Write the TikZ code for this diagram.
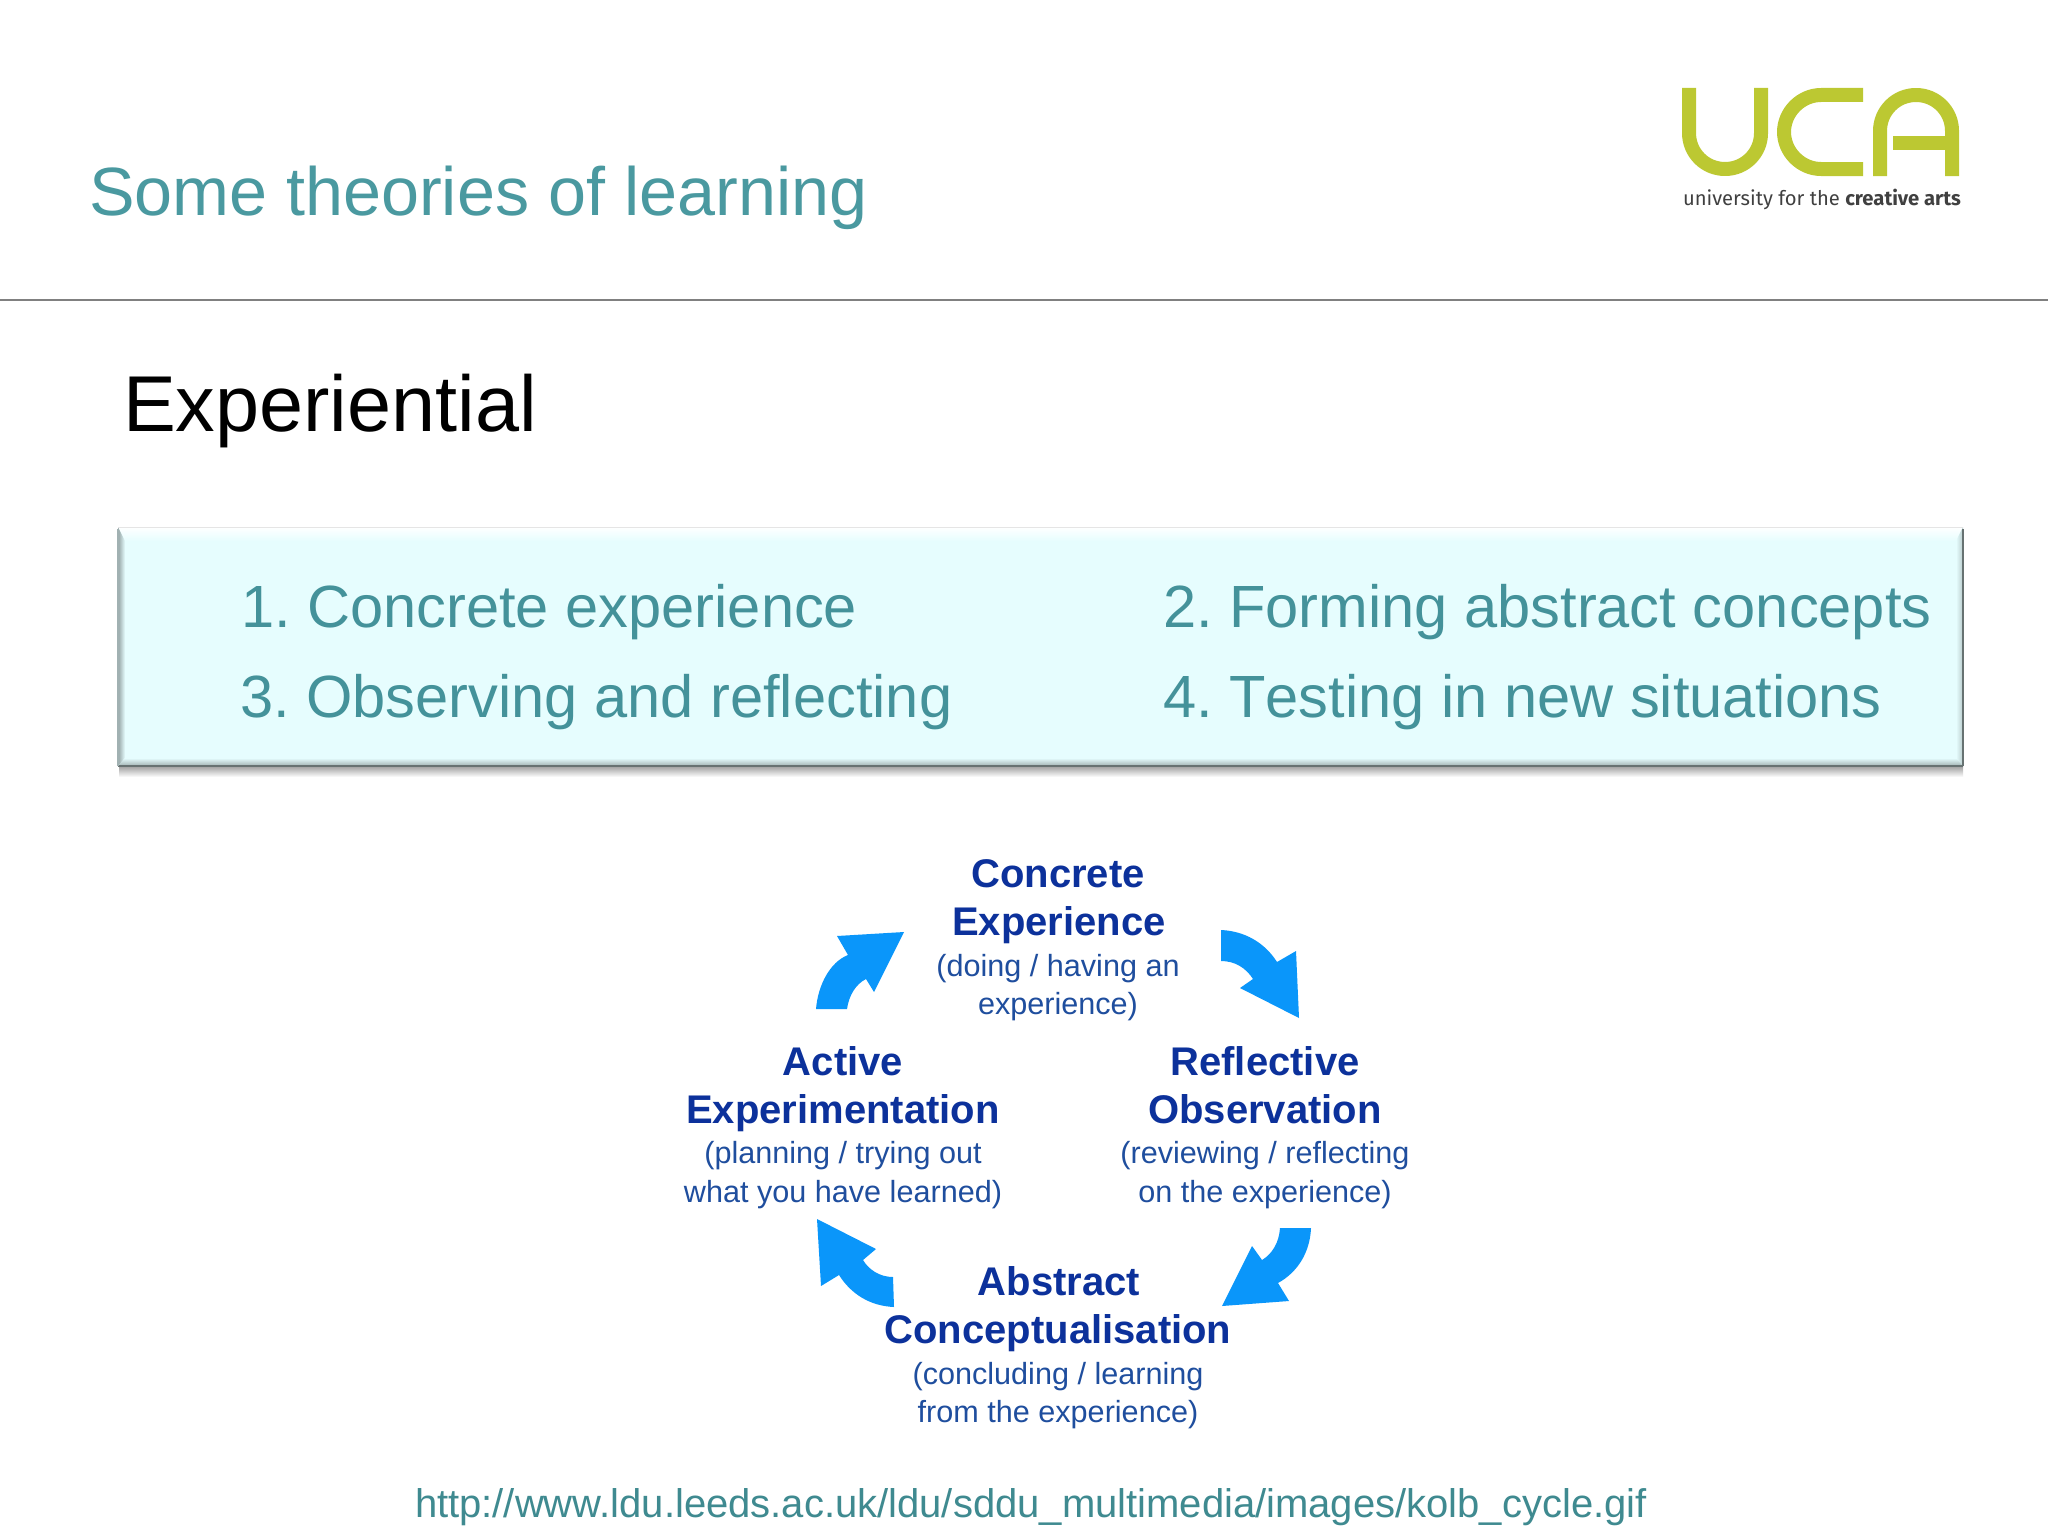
\documentclass[tikz,border=0pt]{standalone}
\usepackage{fontspec}
\setmainfont{Liberation Sans}
\newfontfamily\logofont{Fira Sans}
\newfontfamily\nokernfont[Kerning=Off]{Liberation Sans}
\definecolor{tealtitle}{HTML}{4A99A0}
\definecolor{tealtext}{HTML}{44929A}
\definecolor{tealurl}{HTML}{3F8A90}
\definecolor{boxfill}{HTML}{E6FDFE}
\definecolor{arrowblue}{HTML}{0A96FA}
\definecolor{navy}{HTML}{0C319B}
\definecolor{midblue}{HTML}{1F4E9E}
\definecolor{ucagreen}{HTML}{BCC832}
\definecolor{logogrey}{HTML}{404040}
\newcommand{\fsz}[1]{\fontsize{#1}{#1}\selectfont}
\tikzset{
  txt/.style={inner sep=0pt,outer sep=0pt,anchor=base west},
  title/.style={txt,text=tealtitle,font=\fsz{34.15}},
  heading/.style={txt,text=black,font=\fsz{39.6}},
  listitem/.style={txt,text=tealtext,font=\nokernfont\fsz{29.8}},
  kolbhead/.style={inner sep=0pt,anchor=base,text=navy,font=\fsz{20}\bfseries},
  kolbnote/.style={inner sep=0pt,anchor=base,text=midblue,font=\fsz{15.3}},
  blockarrow/.style={fill=arrowblue,draw=none},
  ucastroke/.style={draw=ucagreen,line width=7pt,line cap=butt,line join=round},
}
\begin{document}
\frenchspacing
\begin{tikzpicture}[x=0.5pt,y=-0.5pt]
\useasboundingbox (0,0) rectangle (2048,1536);
\fill[white] (0,0) rectangle (2048,1536);

% header
\node[title] (ttl) at (89,215) {Some theories of learning};
\coordinate (ruleL) at (0,300);
\coordinate (ruleR) at (2048,300);
\draw[draw=black!50,line width=0.8pt] (ruleL) -- (ruleR);
\node[heading] (exp) at (123,431) {Experiential};

% logo
\draw[ucastroke] (1689,88) -- (1689,133) .. controls (1689,153) and (1705,169) .. (1725,169)
   .. controls (1745,169) and (1761,153) .. (1761,133) -- (1761,88);
\draw[ucastroke] (1863,95) -- (1821,95) .. controls (1801,95) and (1784,112) .. (1784,132)
   .. controls (1784,152) and (1801,169) .. (1821,169) -- (1863,169);
\draw[ucastroke] (1880,176) -- (1880,131) .. controls (1880,111) and (1896,95) .. (1916,95)
   .. controls (1936,95) and (1952,111) .. (1952,131) -- (1952,176);
\draw[ucastroke] (1893,142.5) -- (1952,142.5);
\node[txt,text=logogrey,font=\logofont\fsz{10.1}] (uni) at (1683,205) {university for the \textbf{creative arts}};

% panel: soft shadow
\shade[top color=black!38,bottom color=white] (119,766) rectangle (1963,777);
\fill[boxfill] (118,527) rectangle (1963,766);
\shade[top color=white,bottom color=boxfill] (118,527) -- (1963,527) -- (1956,541) -- (125,541) -- cycle;
\shade[left color=black!35!boxfill,right color=boxfill] (118,527) -- (125,541) -- (125,758) -- (118,766) -- cycle;
\shade[left color=boxfill,right color=black!20!boxfill] (1963,527) -- (1956,541) -- (1956,758) -- (1963,766) -- cycle;
\shade[top color=boxfill,bottom color=black!30!boxfill] (118,766) -- (125,758) -- (1956,758) -- (1963,766) -- cycle;
\draw[draw=black!10,line width=0.5pt] (118,527) -- (1963,527);
\draw[draw=black!55!boxfill,line width=1pt] (118,766) -- (1963,766);
\draw[draw=black!55!boxfill,line width=1pt] (1963,766) -- (1963,529);
\draw[draw=black!30!boxfill,line width=0.7pt] (118,766) -- (118,529);

\node[listitem] (l1) at (241,627) {1. Concrete experience};
\node[listitem] (l3) at (240,717) {3. Observing and reflecting};
\node[listitem] (l2) at (1163,627) {2. Forming abstract concepts};
\node[listitem] (l4) at (1163,717) {4. Testing in new situations};

% Kolb cycle text
\node[kolbhead] (ce1) at (1058,887) {Concrete};
\node[kolbhead] (ce2) at (1059,935) {Experience};
\node[kolbnote] (ce3) at (1058,976) {(doing / having an};
\node[kolbnote] (ce4) at (1058,1014) {experience)};

\node[kolbhead] (ro1) at (1265,1075) {Reflective};
\node[kolbhead] (ro2) at (1265,1123) {Observation};
\node[kolbnote] (ro3) at (1265,1163) {(reviewing / reflecting};
\node[kolbnote] (ro4) at (1265,1202) {on the experience)};

\node[kolbhead] (ae1) at (843,1075) {Active};
\node[kolbhead] (ae2) at (843,1123) {Experimentation};
\node[kolbnote] (ae3) at (843,1163) {(planning / trying out};
\node[kolbnote] (ae4) at (843,1202) {what you have learned)};

\node[kolbhead] (ac1) at (1059,1295) {Abstract};
\node[kolbhead] (ac2) at (1058,1343) {Conceptualisation};
\node[kolbnote] (ac3) at (1058,1384) {(concluding / learning};
\node[kolbnote] (ac4) at (1058,1422) {from the experience)};

% block arrows
\fill[blockarrow] (816,1009) -- (847,1009) .. controls (849,995) and (856,984) .. (866,979)
  -- (874,992) -- (904,932) -- (837,936) -- (848,955) .. controls (830,962) and (818,985) .. (816,1009) -- cycle;
\fill[blockarrow] (1221,930) .. controls (1245,931) and (1265,943) .. (1277,962)
  -- (1296,951) -- (1299,1018) -- (1240,988) -- (1253,979) .. controls (1246,968) and (1235,961) .. (1221,961) -- cycle;
\fill[blockarrow] (1311,1228) .. controls (1310,1252) and (1298,1272) .. (1278,1283)
  -- (1289,1301) -- (1222,1306) -- (1252,1246) -- (1262,1260) .. controls (1272,1254) and (1279,1243) .. (1280,1228) -- cycle;
\fill[blockarrow] (894,1307) .. controls (870,1306) and (851,1294) .. (839,1275)
  -- (821,1286) -- (817,1219) -- (876,1249) -- (863,1260) .. controls (869,1270) and (880,1277) .. (893,1277) -- cycle;

% source
\node[txt,text=tealurl,font=\fsz{20}] (src) at (415,1517) {http://www.ldu.leeds.ac.uk/ldu/sddu\_multimedia/images/kolb\_cycle.gif};
\end{tikzpicture}
\end{document}
